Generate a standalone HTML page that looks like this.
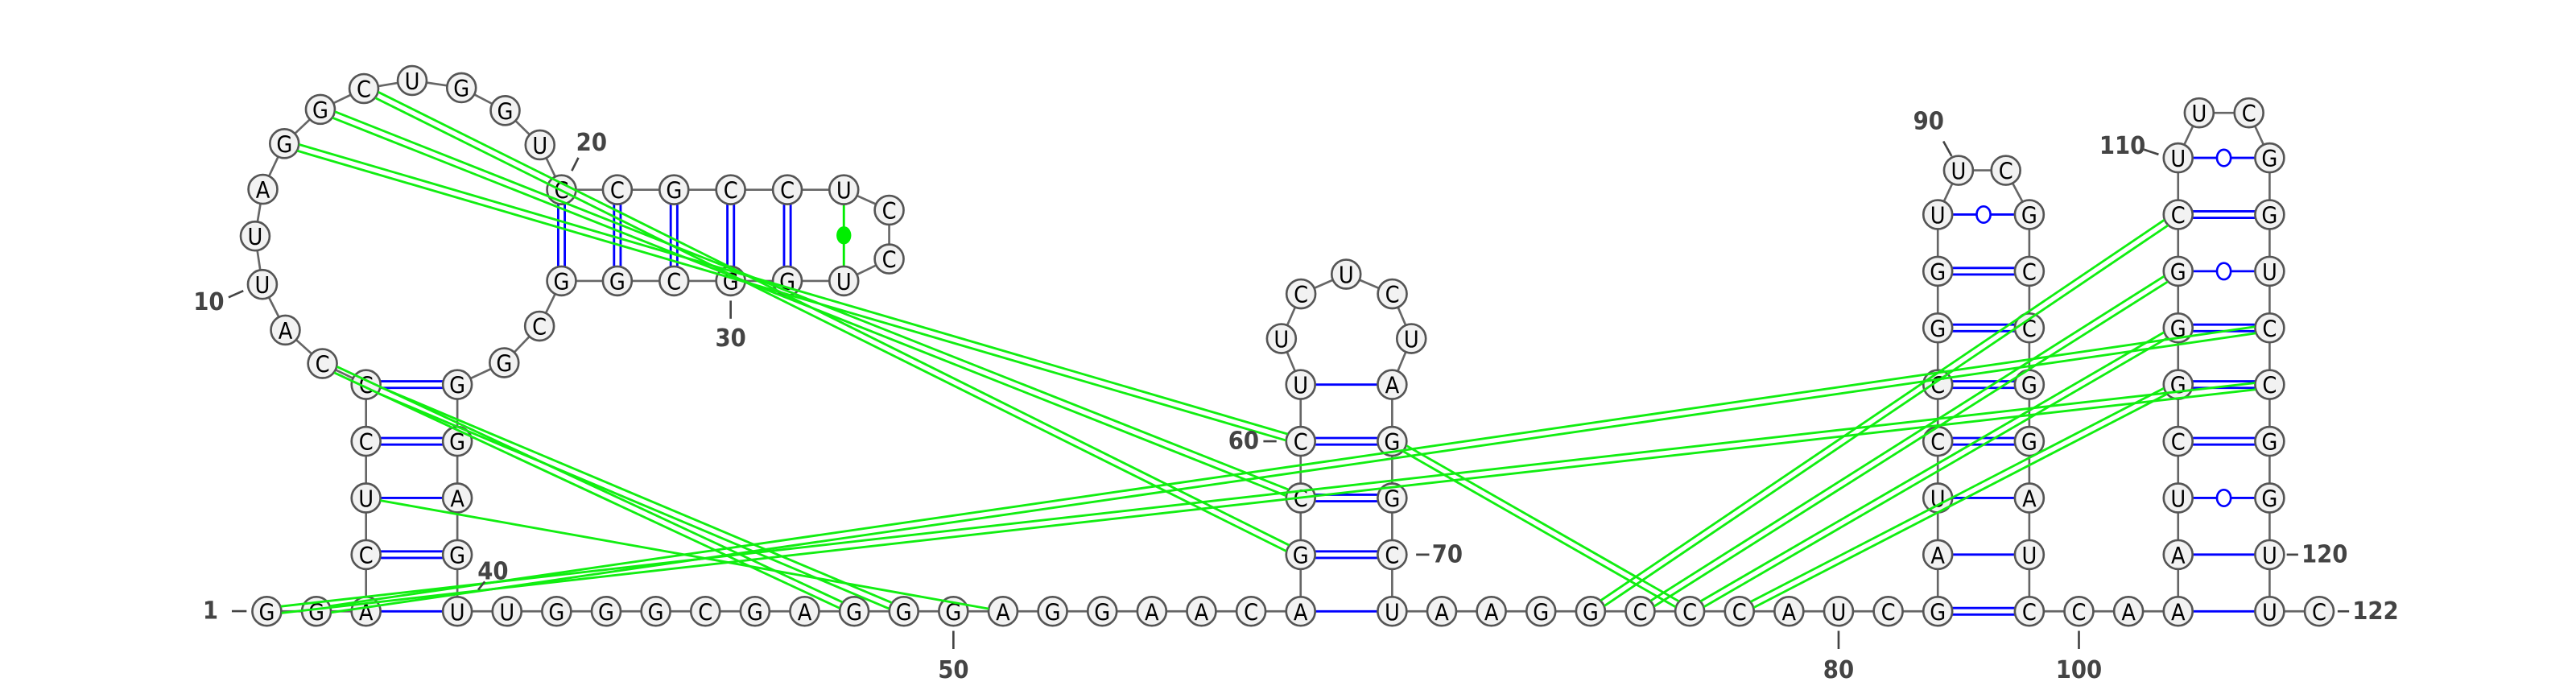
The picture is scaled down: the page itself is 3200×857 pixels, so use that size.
<!DOCTYPE html>
<html><head><meta charset="utf-8"><style>
html,body{margin:0;padding:0;background:#fff;}
svg{display:block;}
.nt{font-family:"DejaVu Sans Condensed","DejaVu Sans","Liberation Sans",sans-serif;font-size:14px;fill:#000;text-anchor:middle;dominant-baseline:central;}
.lbl{font-family:"DejaVu Sans Condensed","DejaVu Sans","Liberation Sans",sans-serif;font-size:15px;font-weight:bold;fill:#444;dominant-baseline:central;}
</style></head><body>
<svg id="rna" width="3200" height="857" viewBox="0 0 1568 420" xmlns="http://www.w3.org/2000/svg">
<g id="backbone"></g>
<g id="pairs"></g>
<g id="nts"></g>
<g id="tert"></g>
<g id="labels"></g>
</svg>
<script>
const sequence = "GGACUCCCAUUAGGCUGGUCCGCCUCCUGGCGGCGGGAGUUGGGCGAGGGAGGAACAGCCUUCUCUAGGCUAAGGCCCAUCGAUCCGGUUCGCCGGAUCCAAAUCGGGCUUCGGUCCGGUUC";
const canonicalPairs = [[3,40,1],[4,39,2],[5,38,1],[6,37,2],[7,36,2],
 [20,33,2],[21,32,2],[22,31,2],[23,30,2],[24,29,2],
 [57,71,1],[58,70,2],[59,69,2],[60,68,2],[61,67,1],
 [82,99,2],[83,98,1],[84,97,1],[85,96,2],[86,95,2],[87,94,2],[88,93,2],
 [102,121,1],[103,120,1],[105,118,2],[106,117,2],[107,116,2],[109,114,2]];
const wobblePairs = [[89,92],[104,119],[108,115],[110,113]];
const nonCanonical = [[25,28]];
const tertiary = [[13,60,2],[14,59,2],[15,58,2],[7,49,2],[8,48,2],[5,51,1],[1,117,2],[2,116,2],[68,77,2],[75,109,2],[76,108,2],[77,107,2],[78,106,2]];
const numberLabels = [1,10,20,30,40,50,60,70,80,90,100,110,120,122];

const Y0=372.1, ST=34.5, D=30.2, R=8.8;
const P={};
function row(k){return Y0-ST*k;}
P[1]=[162.3,Y0];P[2]=[192.5,Y0];P[3]=[222.7,Y0];
for(let k=1;k<=4;k++)P[3+k]=[222.7,row(k)];
const loop1=[[196.2,221.3],[173.6,200.9],[159.6,173.1],[155.2,143.7],[159.9,115.2],[173,87.4],[194.9,66.6],[221.4,53.9],[250.8,49],[280.8,53.4],[307.4,67.3],[328.6,88.2],[341.7,115.5]];
loop1.forEach((p,i)=>P[8+i]=p);
[375.7,410.2,444.7,479.2,513.6].forEach((x,i)=>P[21+i]=[x,115.5]);
P[26]=[541.2,127.9];P[27]=[541.2,157.6];
[513.6,479.2,444.7,410.2,375.7,341.7].forEach((x,i)=>P[28+i]=[x,171]);
P[34]=[328.3,198.5];P[35]=[306.8,220.8];
for(let k=4;k>=0;k--)P[40-k]=[278.3,row(k)];
for(let i=41;i<=57;i++)P[i]=[278.3+(i-40)*D,Y0];
for(let k=1;k<=4;k++)P[57+k]=[P[57][0],row(k)];
[[780,206.1],[791.9,178.9],[819.4,166.9],[847.5,178.9],[859.1,206.1]].forEach((p,i)=>P[62+i]=p);
const x71=P[57][0]+55.7;
for(let k=4;k>=1;k--)P[71-k]=[x71,row(k)];
P[71]=[x71,Y0];
for(let i=72;i<=82;i++)P[i]=[x71+(i-71)*D,Y0];
for(let k=1;k<=7;k++)P[82+k]=[P[82][0],row(k)];
P[90]=[1192.2,103.7];P[91]=[1221,103.7];
const x99=P[82][0]+55.7;
for(let k=7;k>=1;k--)P[99-k]=[x99,row(k)];
P[99]=[x99,Y0];
for(let i=100;i<=102;i++)P[i]=[x99+(i-99)*D,Y0];
for(let k=1;k<=8;k++)P[102+k]=[P[102][0],row(k)];
P[111]=[1338.7,68.7];P[112]=[1369,68.7];
const x121=P[102][0]+55.7;
for(let k=8;k>=1;k--)P[121-k]=[x121,row(k)];
P[121]=[x121,Y0];P[122]=[x121+D,Y0];

const NS="http://www.w3.org/2000/svg";
function mk(tag,attrs,parent){const e=document.createElementNS(NS,tag);for(const k in attrs)e.setAttribute(k,attrs[k]);parent.appendChild(e);return e;}
function seg(a,b,r1,r2){const dx=b[0]-a[0],dy=b[1]-a[1],L=Math.hypot(dx,dy),ux=dx/L,uy=dy/L;return [a[0]+ux*r1,a[1]+uy*r1,b[0]-ux*r2,b[1]-uy*r2,-uy,ux];}
const gB=document.getElementById('backbone'),gP=document.getElementById('pairs'),gN=document.getElementById('nts'),gT=document.getElementById('tert'),gL=document.getElementById('labels');

for(let i=1;i<122;i++){
 const s=seg(P[i],P[i+1],R,R);
 const l=mk('line',{x1:s[0],y1:s[1],x2:s[2],y2:s[3],stroke:'#666','stroke-width':1.3},gB);
 
 
}
function multiLine(a,b,n,color,w,g,name){
 const s=seg(P[a],P[b],R,R);const offs=n===2?[-2,2]:[0];
 offs.forEach(o=>{const l=mk('line',{x1:s[0]+s[4]*o,y1:s[1]+s[5]*o,x2:s[2]+s[4]*o,y2:s[3]+s[5]*o,stroke:color,'stroke-width':w},g);
  
  });
}
canonicalPairs.forEach(p=>multiLine(p[0],p[1],p[2],'#0000ff',1.4,gP,'base-pair'));
wobblePairs.forEach(p=>{
 multiLine(p[0],p[1],1,'#0000ff',1.4,gP,'wobble-pair');
 const a=P[p[0]],b=P[p[1]];
 const c=mk('ellipse',{cx:(a[0]+b[0])/2,cy:(a[1]+b[1])/2,rx:4.2,ry:5,fill:'#fff',stroke:'#0000ff','stroke-width':1.3},gP);
 
 
});
nonCanonical.forEach(p=>{
 multiLine(p[0],p[1],1,'#00ee00',1.4,gP,'noncanonical-pair');
 const a=P[p[0]],b=P[p[1]];
 const c=mk('ellipse',{cx:(a[0]+b[0])/2,cy:(a[1]+b[1])/2,rx:4.5,ry:5.5,fill:'#00ee00'},gP);
 
 
});
for(let i=1;i<=122;i++){
 const g=mk('g',{},gN);
 
 
 mk('ellipse',{cx:P[i][0],cy:P[i][1],rx:R,ry:R,fill:'#f2f2f2',stroke:'#555','stroke-width':1.3},g);
 const t=mk('text',{x:P[i][0],y:P[i][1]+0.5,class:'nt'},g);t.textContent=sequence[i-1];
}
tertiary.forEach(p=>multiLine(p[0],p[1],p[2],'#11ee11',1.4,gT,'tertiary-interaction'));

const labelPos={1:[128,372,'middle',141,372,150,372],10:[127,184,'middle',139,181,148,177],20:[360,87,'middle',348,104,352,96],
30:[444.7,206,'middle',444.7,183,444.7,194],40:[300,348,'middle',291,359,295,354],50:[580.3,408,'middle',580.3,384,580.3,395],
60:[757,268.6,'middle',769,268.6,777,268.6],70:[881,337.6,'middle',862,337.6,870,337.6],80:[1119.2,408,'middle',1119.2,384,1119.2,395],
90:[1174,74,'middle',1183,86,1188,95],100:[1265.5,408,'middle',1265.5,384,1265.5,395],110:[1292,89,'middle',1305,91,1314,94],
120:[1401,337.6,'start',1392,337.6,1399,337.6],122:[1432,372.1,'start',1423,372.1,1430,372.1]};
numberLabels.forEach(n=>{
 const L=labelPos[n];
 const tk=mk('line',{x1:L[3],y1:L[4],x2:L[5],y2:L[6],stroke:'#444','stroke-width':1.3},gL);
 
 
 const t=mk('text',{x:L[0],y:L[1],'text-anchor':L[2],class:'lbl'},gL);t.textContent=String(n);
 
 
});
</script>
</body></html>
